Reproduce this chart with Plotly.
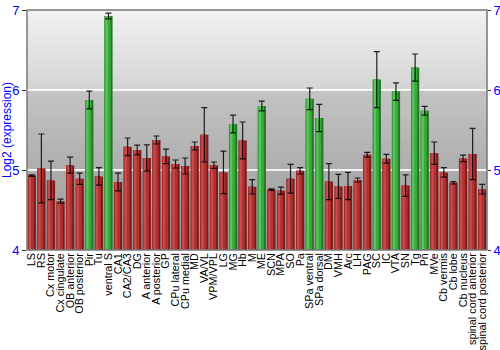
import plotly.graph_objects as go

# Brain regions along the x axis
regions = [
    "LS", "RS", "Cx motor", "Cx cingulate", "OB anterior", "OB posterior", "Pir", "Tu",
    "ventral S", "CA1", "CA2/CA3", "DG", "A anterior", "A posterior", "GP", "CPu lateral",
    "CPu medial", "MD", "VA/VL", "VPM/VPL", "LG", "MG", "Hb", "M", "ME", "SCN", "MPA", "SO",
    "Pa", "SPa ventral", "SPa dorsal", "DM", "VMH", "Arc", "LH", "PAG", "SC", "IC", "VTA",
    "SN", "Tg", "Pn", "MVe", "Cb vermis", "Cb lobe", "Cb nucleus",
    "spinal cord anterior", "spinal cord posterior",
]

# Mean log2 expression per region
expression = [
    4.93, 5.02, 4.87, 4.61, 5.06, 4.89, 5.875, 4.92,
    6.925, 4.85, 5.29, 5.25, 5.15, 5.375, 5.17, 5.075,
    5.05, 5.30, 5.44, 5.06, 4.97, 5.575, 5.37, 4.79, 5.80, 4.755, 4.74, 4.89,
    4.99, 5.89, 5.65, 4.855, 4.795, 4.80, 4.875, 5.19, 6.13, 5.14, 5.98,
    4.805, 6.28, 5.74, 5.21, 4.97, 4.84, 5.145,
    5.20, 4.76,
]

# Error (± one deviation) per region
spread = [
    0.01, 0.43, 0.24, 0.025, 0.10, 0.07, 0.11, 0.11,
    0.035, 0.11, 0.11, 0.06, 0.165, 0.05, 0.09, 0.05,
    0.10, 0.05, 0.34, 0.04, 0.265, 0.11, 0.23, 0.09, 0.06, 0.01, 0.045, 0.18,
    0.04, 0.135, 0.17, 0.225, 0.15, 0.17, 0.025, 0.03, 0.35, 0.055, 0.11,
    0.135, 0.17, 0.055, 0.14, 0.06, 0.015, 0.04,
    0.32, 0.06,
]

# Regions highlighted as enriched
enriched = {"Pir", "ventral S", "MG", "ME", "SPa ventral", "SPa dorsal", "SC", "VTA", "Tg", "Pn"}

y_ticks = [4, 5, 6, 7]

is_hi = [r in enriched for r in regions]
edge_col = ["#1f7a22" if h else "#7a1c1c" for h in is_hi]
body_col = ["#3aa83d" if h else "#b33030" for h in is_hi]
shine_col = ["#5cc45e" if h else "#c84c4c" for h in is_hi]

xs = list(range(len(regions)))

fig = go.Figure()
# darker outer bar (edges)
fig.add_trace(go.Bar(x=xs, y=expression, width=0.86, marker=dict(color=edge_col, line_width=0),
                     showlegend=False, hoverinfo="skip"))
# main body
fig.add_trace(go.Bar(x=xs, y=expression, width=0.62, offset=-0.40,
                     marker=dict(color=body_col, line_width=0), showlegend=False, hoverinfo="skip"))
# highlight strip
fig.add_trace(go.Bar(x=xs, y=expression, width=0.22, offset=-0.30,
                     marker=dict(color=shine_col, line_width=0), showlegend=False, hoverinfo="skip"))
# error bars
fig.add_trace(go.Scatter(x=xs, y=expression, mode="markers", marker=dict(size=0.1, color="rgba(0,0,0,0)"),
                         error_y=dict(type="data", array=spread, visible=True, color="rgba(0,0,0,0.85)",
                                      thickness=1.2, width=3),
                         showlegend=False, hoverinfo="skip"))
# invisible trace to anchor the right-hand axis
fig.add_trace(go.Scatter(x=[xs[0]], y=[expression[0]], yaxis="y2", mode="markers",
                         marker=dict(color="rgba(0,0,0,0)"), showlegend=False, hoverinfo="skip"))

# gray gradient background in two bands, split at 6
shapes = []
def band(y0, y1, c0, c1, n):
    step = (y1 - y0) / n
    for k in range(n):
        a = y0 + step * k
        b = min(y1, a + step * 1.6)
        t = (k + 0.5) / n
        v = round(c0 + (c1 - c0) * t)
        shapes.append(dict(type="rect", xref="paper", yref="y", x0=0, x1=1, y0=a, y1=b,
                           fillcolor=f"rgb({v},{v},{v})", line_width=0, layer="below"))
band(4, 6, 150, 196, 40)
band(6, 7, 212, 242, 20)
# plot frame
shapes.append(dict(type="rect", xref="paper", yref="paper", x0=0, x1=1, y0=0, y1=1,
                   line=dict(color="#777777", width=1.5), fillcolor="rgba(0,0,0,0)", layer="above"))

axis_font = dict(family="Liberation Sans, Arial, sans-serif", size=13, color="#0000ff")

fig.update_layout(
    width=500, height=350,
    margin=dict(l=27, r=13, t=10, b=100),
    paper_bgcolor="white", plot_bgcolor="rgba(0,0,0,0)",
    barmode="overlay",
    shapes=shapes,
    xaxis=dict(range=[-0.5, len(regions) - 0.5], tickmode="array", tickvals=xs, ticktext=regions,
               tickangle=-90, tickfont=dict(family="Liberation Sans, Arial, sans-serif", size=10.8, color="black"),
               ticks="", showgrid=False, zeroline=False, showline=False, automargin=False),
    yaxis=dict(range=[4, 7], tickvals=y_ticks, tickfont=axis_font, ticks="outside", ticklen=4,
               tickcolor="#333333", showgrid=True, gridcolor="rgba(255,255,255,0.85)", gridwidth=2,
               zeroline=False, showline=False, automargin=False,
               title=dict(text="Log2 (expression)", font=dict(family="Liberation Sans, Arial, sans-serif",
                                                              size=12, color="#0000ff"), standoff=2)),
    yaxis2=dict(range=[4, 7], tickvals=y_ticks, overlaying="y", side="right", tickfont=axis_font,
                ticks="outside", ticklen=3, tickcolor="#333333", showgrid=False, zeroline=False,
                showline=False, automargin=False),
)

fig.write_html("out.html")
